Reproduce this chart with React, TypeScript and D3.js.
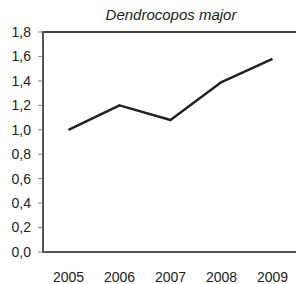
import React from "react";
import * as d3 from "d3";

const years = ["2005", "2006", "2007", "2008", "2009"];
const values = [1.0, 1.2, 1.08, 1.39, 1.58];
const yTicks = [0, 0.2, 0.4, 0.6, 0.8, 1.0, 1.2, 1.4, 1.6, 1.8];
const title = "Dendrocopos major";

export default function App() {
  const W = 296, H = 284;
  const left = 43, right = 298, top = 32, bottom = 252;
  const x = d3.scaleBand<string>().domain(years).range([left, right]);
  const y = d3.scaleLinear().domain([0, 1.8]).range([bottom, top]);
  const line = d3
    .line<number>()
    .x((_, i) => (x(years[i]) as number) + x.bandwidth() / 2)
    .y((v) => y(v));
  const fmt = (v: number) => v.toFixed(1).replace(".", ",");
  const font = "'Liberation Sans', Arial, sans-serif";
  return (
    <svg
      width={W}
      height={H}
      style={{ position: "absolute", left: 0, top: 0, background: "#fff" }}
      fontFamily={font}
    >
      <text x={171} y={20} textAnchor="middle" fontSize={15} fontStyle="italic" fill="#222">
        {title}
      </text>
      {yTicks.map((t) => (
        <g key={t}>
          <line x1={left - 5} x2={left} y1={y(t)} y2={y(t)} stroke="#888" strokeWidth={1} />
          <text x={31} y={y(t)} dy="0.35em" textAnchor="end" fontSize={14} fill="#222">
            {fmt(t)}
          </text>
        </g>
      ))}
      <line x1={left} x2={W} y1={top} y2={top} stroke="#444" strokeWidth={2} />
      <line x1={left} x2={W} y1={bottom} y2={bottom} stroke="#555" strokeWidth={2} />
      <line x1={left} x2={left} y1={top - 1} y2={bottom + 1} stroke="#555" strokeWidth={2} />
      {years.map((yr) => (
        <text
          key={yr}
          x={(x(yr) as number) + x.bandwidth() / 2}
          y={282}
          textAnchor="middle"
          fontSize={14}
          fill="#222"
        >
          {yr}
        </text>
      ))}
      <path d={line(values) || ""} fill="none" stroke="#222" strokeWidth={2.5} strokeLinejoin="round" />
    </svg>
  );
}
